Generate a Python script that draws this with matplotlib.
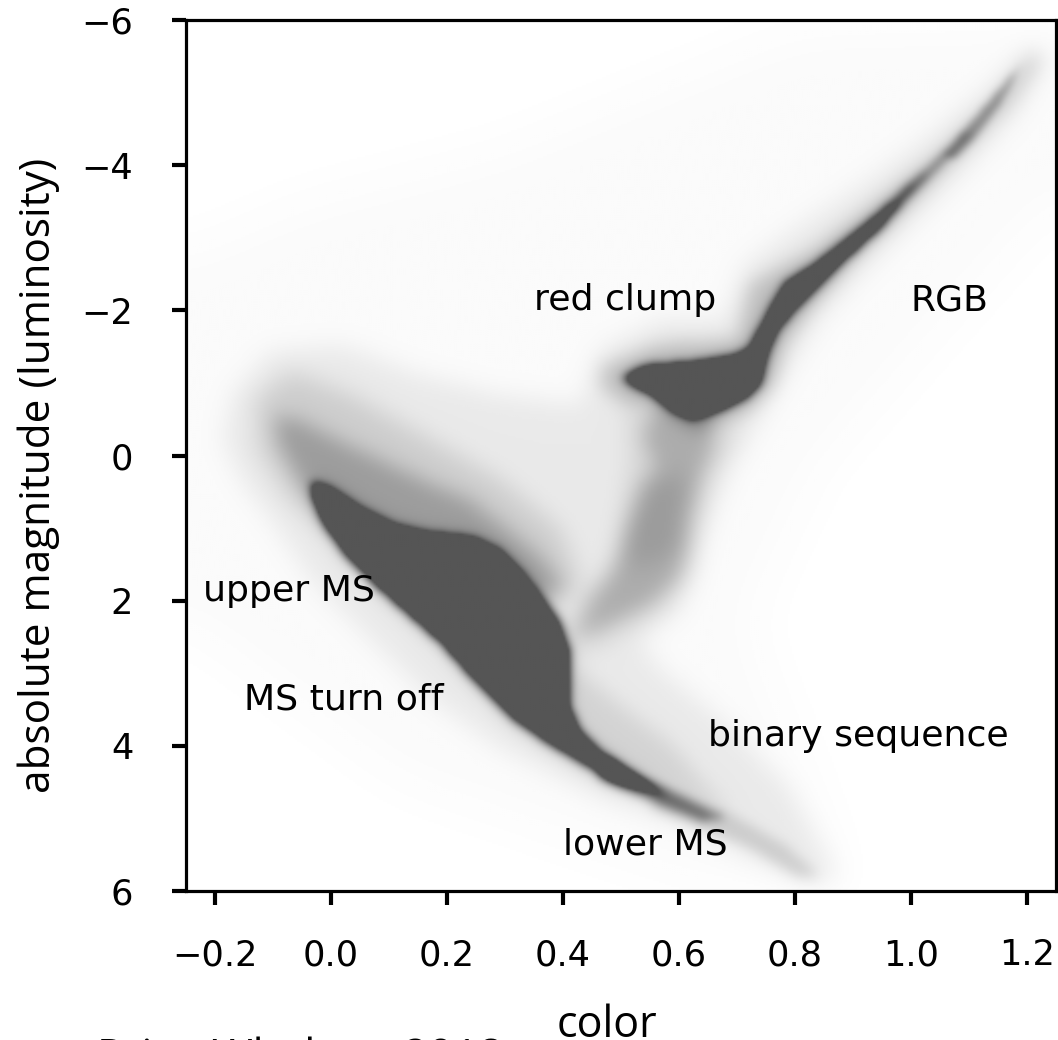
import numpy as np
import matplotlib
matplotlib.use("Agg")
import matplotlib.pyplot as plt
from matplotlib.path import Path
from matplotlib.colors import LinearSegmentedColormap

# density outlines, in (color, abs. mag)
wide_x = [-0.25, -0.05, 0.29, 0.81, 1.25, 1.25, 1.07, 0.84, 0.72, 0.89, 0.64, 0.12, -0.25]
wide_y = [-2.8, -3.5, -4.2, -5.9, -6.0, -3.5, -1.9, 0.2, 2.3, 5.9, 5.9, 4.5, 2.3]

pale_x = [-0.188, -0.171, -0.109, 0.016, 0.153, 0.291, 0.429, 0.464, 0.567, 0.679, 0.714, 0.809, 0.929,
          1.033, 1.136, 1.205, 1.24, 1.188, 1.102, 1.016, 0.929, 0.843, 0.783, 0.74, 0.688, 0.636, 0.602,
          0.533, 0.567, 0.671, 0.791, 0.878, 0.826, 0.722, 0.602, 0.464, 0.291, 0.171, 0.067, -0.036,
          -0.105, -0.157]
pale_y = [-0.22, -0.84, -1.43, -1.53, -1.11, -0.84, -0.70, -1.46, -1.87, -1.87, -2.63, -3.18, -3.80,
          -4.42, -5.10, -5.65, -5.52, -4.76, -4.00, -3.31, -2.63, -1.87, -1.11, -0.50, 0.19, 1.16, 2.12,
          2.53, 2.94, 3.63, 4.59, 5.83, 5.94, 5.56, 5.08, 4.73, 4.04, 3.36, 2.53, 1.71, 0.88, 0.33]

plume_x = [-0.131, -0.071, 0.033, 0.171, 0.291, 0.395, 0.43, 0.40, 0.119, 0.0, -0.071, -0.126]
plume_y = [-0.77, -1.16, -0.84, -0.22, 0.33, 1.02, 1.75, 2.05, 1.43, 1.02, 0.61, -0.08]

plume_mid_x = [-0.10, -0.06, 0.009, 0.095, 0.164, 0.238, 0.297, 0.359, 0.40, 0.37, 0.119, 0.0, -0.053, -0.091]
plume_mid_y = [-0.54, -0.50, -0.22, 0.10, 0.37, 0.61, 0.98, 1.39, 1.80, 2.00, 1.22, 0.81, 0.40, -0.15]

sub_light_x = [0.51, 0.671, 0.70, 0.653, 0.636, 0.624, 0.567, 0.459, 0.412, 0.498, 0.516]
sub_light_y = [-0.77, -0.50, -0.32, 0.37, 1.02, 1.66, 2.16, 2.63, 2.76, 1.29, 0.01]

sub_x = [0.56, 0.65, 0.659, 0.636, 0.619, 0.614, 0.597, 0.555, 0.498, 0.452, 0.412,
         0.441, 0.486, 0.51, 0.538, 0.562, 0.538]
sub_y = [-0.70, -0.65, -0.12, 0.33, 0.84, 1.29, 1.71, 2.02, 2.26, 2.43, 2.53,
         1.95, 1.57, 1.02, 0.43, 0.19, -0.26]

sub_core_x = [0.54, 0.62, 0.60, 0.52, 0.50]
sub_core_y = [0.3, 0.3, 1.3, 1.6, 1.1]

halo_x = [0.464, 0.567, 0.70, 0.722, 0.831, 0.947, 1.045, 1.141, 1.2, 1.222, 1.222, 1.165, 1.084, 1.003,
          0.91, 0.831, 0.786, 0.762, 0.717, 0.636, 0.55, 0.503, 0.464]
halo_y = [-1.22, -1.55, -1.60, -2.38, -2.83, -3.52, -4.11, -4.86, -5.41, -5.58, -5.45, -4.80, -4.17, -3.52,
          -2.79, -2.05, -1.55, -0.95, -0.59, -0.32, -0.73, -0.73, -0.95]

rgb_tip_x = [1.06, 1.084, 1.136, 1.184, 1.195, 1.155, 1.103, 1.075]
rgb_tip_y = [-4.15, -4.40, -4.89, -5.33, -5.45, -4.85, -4.30, -4.10]

binary_x = [0.417, 0.464, 0.521, 0.59, 0.636, 0.693, 0.607, 0.521, 0.464, 0.424, 0.412]
binary_y = [2.90, 3.22, 3.59, 4.00, 4.46, 4.91, 4.78, 4.50, 4.14, 3.67, 3.26]

tail_mid_x = [0.47, 0.533, 0.602, 0.68, 0.64, 0.567, 0.46]
tail_mid_y = [4.15, 4.43, 4.70, 5.00, 5.05, 4.82, 4.45]

tail_light_x = [0.567, 0.688, 0.791, 0.843, 0.807, 0.722, 0.619, 0.55]
tail_light_y = [4.59, 4.94, 5.42, 5.83, 5.83, 5.42, 5.08, 4.87]

ms_x = [-0.034, -0.003, 0.048, 0.107, 0.164, 0.245, 0.29, 0.324, 0.359, 0.393, 0.409, 0.409, 0.412,
        0.429, 0.464, 0.52, 0.575, 0.49, 0.429, 0.372, 0.314, 0.274, 0.234, 0.188, 0.124, 0.072,
        0.021, -0.014, -0.031]
ms_y = [0.37, 0.47, 0.74, 0.98, 1.09, 1.16, 1.33, 1.61, 1.94, 2.30, 2.67, 3.12, 3.49,
        3.81, 4.09, 4.40, 4.68, 4.50, 4.22, 3.95, 3.63, 3.31, 2.98, 2.57, 2.12, 1.75,
        1.33, 0.92, 0.56]

rc_x = [0.503, 0.538, 0.624, 0.693, 0.722, 0.74, 0.757, 0.786, 0.831, 0.89, 0.947, 1.003, 1.045, 1.107,
        1.055, 1.003, 0.947, 0.89, 0.843, 0.797, 0.769, 0.752, 0.74, 0.717, 0.671, 0.624, 0.59, 0.55, 0.516]
rc_y = [-1.07, -1.22, -1.28, -1.36, -1.46, -1.73, -2.0, -2.38, -2.6, -2.97, -3.34, -3.75, -4.03, -4.53,
        -4.07, -3.66, -3.15, -2.74, -2.38, -2.0, -1.73, -1.42, -1.0, -0.81, -0.63, -0.52, -0.63, -0.87, -1.0]

# outline, amount of density, softness of its edge (cells)
layers = [
    (wide_x, wide_y, 0.025, 14),
    (pale_x, pale_y, 0.10, 6),
    (plume_x, plume_y, 0.17, 6),
    (plume_mid_x, plume_mid_y, 0.28, 5),
    (sub_light_x, sub_light_y, 0.12, 6),
    (sub_x, sub_y, 0.24, 5),
    (sub_core_x, sub_core_y, 0.10, 6),
    (halo_x, halo_y, 0.24, 4.5),
    (rgb_tip_x, rgb_tip_y, 0.45, 2),
    (binary_x, binary_y, 0.13, 5),
    (tail_mid_x, tail_mid_y, 0.55, 2.5),
    (tail_light_x, tail_light_y, 0.18, 3),
    (ms_x, ms_y, 0.35, 5),
    (rc_x, rc_y, 0.3, 5),
    (ms_x, ms_y, 1.3, 2.5),
    (rc_x, rc_y, 1.3, 2.5),
]

xe = np.linspace(-0.25, 1.25, 436)
ye = np.linspace(-6, 6, 436)
gx, gy = np.meshgrid(xe, ye)
pts = np.column_stack([gx.ravel(), gy.ravel()])


def soften(a, sig):
    r = int(3 * sig) + 1
    k = np.exp(-0.5 * (np.arange(-r, r + 1) / sig) ** 2)
    k = k / k.sum()
    a = np.pad(a, r, mode="edge")
    a = np.apply_along_axis(lambda v: np.convolve(v, k, mode="same"), 0, a)
    a = np.apply_along_axis(lambda v: np.convolve(v, k, mode="same"), 1, a)
    return a[r:-r, r:-r]


dens = np.zeros(gx.shape)
for lx, ly, amount, sig in layers:
    mask = Path(np.column_stack([lx, ly])).contains_points(pts).reshape(gx.shape)
    dens += amount * soften(mask.astype(float), sig)

cmap = LinearSegmentedColormap.from_list("hess", ["#ffffff", "#555555"])

dpi = 100
fig = plt.figure(figsize=(10.58, 10.40), dpi=dpi)
ax = fig.add_axes([186 / 1058, (1040 - 891) / 1040, 870 / 1058, 871 / 1040])
ax.imshow(dens, extent=(-0.25, 1.25, 6, -6), origin="upper", aspect="auto", cmap=cmap,
          vmin=0, vmax=1, interpolation="bilinear")
ax.set_xlim(-0.25, 1.25)
ax.set_ylim(6, -6)

ax.set_xticks([-0.2, 0.0, 0.2, 0.4, 0.6, 0.8, 1.0, 1.2])
ax.set_yticks([-6, -4, -2, 0, 2, 4, 6])
ax.tick_params(axis="x", length=10, width=3, pad=24, labelsize=25.3)
ax.tick_params(axis="y", length=10, width=3, pad=28, labelsize=25.3)
for sp in ax.spines.values():
    sp.set_linewidth(2.3)

ax.text(-0.22, 2.0, "upper MS", fontsize=26.1)
ax.text(-0.15, 3.5, "MS turn off", fontsize=26.1)
ax.text(0.65, 4.0, "binary sequence", fontsize=26.1)
ax.text(0.4, 5.5, "lower MS", fontsize=26.1)
ax.text(0.35, -2.0, "red clump", fontsize=26.1)
ax.text(1.0, -2.0, "RGB", fontsize=26.1)

fig.text(607 / 1058, 1 - 1026 / 1040, "color", family="Open Sans", fontsize=31, ha="center", va="center")
fig.text(39 / 1058, 1 - 475 / 1040, "absolute magnitude (luminosity)", family="Open Sans", fontsize=30.4,
         rotation=90, ha="center", va="center")
fig.text(97 / 1058, 1 - 1036 / 1040, "Price-Whelan+ 2018", family="Open Sans", fontsize=31.6, ha="left", va="top")

fig.savefig("out.png", dpi=dpi)
